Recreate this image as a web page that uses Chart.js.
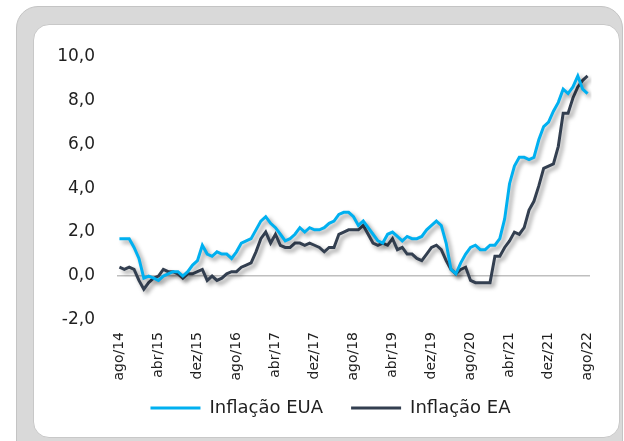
<!DOCTYPE html>
<html>
<head>
<meta charset="utf-8">
<script src="https://cdn.jsdelivr.net/npm/chart.js@4.4.1/dist/chart.umd.min.js"></script>
<style>
  html, body { margin:0; padding:0; background:#ffffff; width:624px; height:441px; overflow:hidden; }
  #outer { position:absolute; left:16px; top:6px; width:605px; height:470px; background:#d9d9d9; border:1px solid #c4c4c4; border-radius:22px; }
  #inner { position:absolute; left:33px; top:24px; width:585px; height:412px; background:#ffffff; border:1px solid #c8c8c8; border-radius:16px; }
  #wrap { position:absolute; left:33px; top:24px; width:587px; height:430px; }
</style>
</head>
<body>
<div id="outer"></div>
<div id="inner"></div>
<div id="wrap"><canvas id="c"></canvas></div>
<script>
const months = [
  'ago/14','set/14','out/14','nov/14','dez/14',
  'jan/15','fev/15','mar/15','abr/15','mai/15','jun/15','jul/15','ago/15','set/15','out/15','nov/15','dez/15',
  'jan/16','fev/16','mar/16','abr/16','mai/16','jun/16','jul/16','ago/16','set/16','out/16','nov/16','dez/16',
  'jan/17','fev/17','mar/17','abr/17','mai/17','jun/17','jul/17','ago/17','set/17','out/17','nov/17','dez/17',
  'jan/18','fev/18','mar/18','abr/18','mai/18','jun/18','jul/18','ago/18','set/18','out/18','nov/18','dez/18',
  'jan/19','fev/19','mar/19','abr/19','mai/19','jun/19','jul/19','ago/19','set/19','out/19','nov/19','dez/19',
  'jan/20','fev/20','mar/20','abr/20','mai/20','jun/20','jul/20','ago/20','set/20','out/20','nov/20','dez/20',
  'jan/21','fev/21','mar/21','abr/21','mai/21','jun/21','jul/21','ago/21','set/21','out/21','nov/21','dez/21',
  'jan/22','fev/22','mar/22','abr/22','mai/22','jun/22','jul/22','ago/22'
];
const shownTicks = ['ago/14','abr/15','dez/15','ago/16','abr/17','dez/17','ago/18','abr/19','dez/19','ago/20','abr/21','dez/21','ago/22'];
const inflacaoEUA = [
  1.7,1.7,1.7,1.3,0.8,
  -0.1,0.0,-0.1,-0.2,0.0,0.1,0.2,0.2,0.0,0.2,0.5,0.7,
  1.4,1.0,0.9,1.1,1.0,1.0,0.8,1.1,1.5,1.6,1.7,2.1,
  2.5,2.7,2.4,2.2,1.9,1.6,1.7,1.9,2.2,2.0,2.2,2.1,
  2.1,2.2,2.4,2.5,2.8,2.9,2.9,2.7,2.3,2.5,2.2,1.9,
  1.6,1.5,1.9,2.0,1.8,1.6,1.8,1.7,1.7,1.8,2.1,2.3,
  2.5,2.3,1.5,0.3,0.1,0.6,1.0,1.3,1.4,1.2,1.2,1.4,
  1.4,1.7,2.6,4.2,5.0,5.4,5.4,5.3,5.4,6.2,6.8,7.0,
  7.5,7.9,8.5,8.3,8.6,9.1,8.5,8.3
];
const inflacaoEA = [
  0.4,0.3,0.4,0.3,-0.2,
  -0.6,-0.3,-0.1,0.0,0.3,0.2,0.2,0.1,-0.1,0.1,0.1,0.2,
  0.3,-0.2,0.0,-0.2,-0.1,0.1,0.2,0.2,0.4,0.5,0.6,1.1,
  1.7,2.0,1.5,1.9,1.4,1.3,1.3,1.5,1.5,1.4,1.5,1.4,
  1.3,1.1,1.3,1.3,1.9,2.0,2.1,2.1,2.1,2.3,1.9,1.5,
  1.4,1.5,1.4,1.7,1.2,1.3,1.0,1.0,0.8,0.7,1.0,1.3,
  1.4,1.2,0.7,0.3,0.1,0.3,0.4,-0.2,-0.3,-0.3,-0.3,-0.3,
  0.9,0.9,1.3,1.6,2.0,1.9,2.2,3.0,3.4,4.1,4.9,5.0,
  5.1,5.9,7.4,7.4,8.1,8.6,8.9,9.1
];
const seriesNames = ['Inflação EUA', 'Inflação EA'];
const seriesColors = ['#00B0F0', '#333F50'];
const yTicks = [-2, 0, 2, 4, 6, 8, 10];

const shadowPlugin = {
  id: 'shadow',
  beforeDatasetsDraw(chart) {
    const ctx = chart.ctx;
    ctx.save();
    ctx.shadowColor = 'rgba(0,0,0,0.4)';
    ctx.shadowBlur = 4;
    ctx.shadowOffsetX = 3;
    ctx.shadowOffsetY = 3;
  },
  afterDatasetsDraw(chart) {
    chart.ctx.restore();
  }
};

const legendShift = {
  id: 'legendShift',
  afterLayout(chart) {
    if (chart.legend) { chart.legend.left += 19; chart.legend.right += 19; }
  }
};

new Chart(document.getElementById('c'), {
  type: 'line',
  data: {
    labels: months,
    datasets: [
      { label: seriesNames[0], data: inflacaoEUA, borderColor: seriesColors[0], backgroundColor: seriesColors[0], borderWidth: 3, pointRadius: 0, tension: 0, fill: false },
      { label: seriesNames[1], data: inflacaoEA, borderColor: seriesColors[1], backgroundColor: seriesColors[1], borderWidth: 3, pointRadius: 0, tension: 0, fill: false }
    ]
  },
  options: {
    responsive: true,
    maintainAspectRatio: false,
    animation: false,
    events: [],
    layout: { padding: { top: 29, left: 0, right: 30, bottom: 27 } },
    plugins: {
      tooltip: { enabled: false },
      legend: {
        position: 'bottom',
        labels: {
          font: { family: 'DejaVu Sans', size: 18 },
          color: '#1f1f1f',
          boxWidth: 50,
          boxHeight: 3,
          padding: 28,
          generateLabels(chart) {
            return chart.data.datasets.map((ds, i) => ({
              text: ds.label, fillStyle: ds.borderColor, strokeStyle: ds.borderColor,
              lineWidth: 0, hidden: false, datasetIndex: i, fontColor: '#1f1f1f'
            }));
          }
        }
      }
    },
    scales: {
      x: {
        offset: true,
        grid: { display: false, drawTicks: false },
        border: { display: false },
        afterFit(scale) { scale.height = 51; scale._computeLabelArea = () => undefined; },
        ticks: {
          autoSkip: false,
          maxRotation: 90,
          minRotation: 90,
          padding: 12,
          color: '#1f1f1f',
          font: { family: 'DejaVu Sans', size: 14 },
          callback(v, i) { const l = months[i]; return shownTicks.includes(l) ? l : ''; }
        }
      },
      y: {
        min: -2,
        max: 10,
        afterFit(scale) { scale.width = 84; },
        afterBuildTicks(scale) { scale.ticks = yTicks.map(v => ({ value: v })); },
        border: { display: false },
        grid: {
          drawTicks: false,
          color: ctx => (ctx.tick && ctx.tick.value === 0) ? '#bfbfbf' : 'rgba(0,0,0,0)',
          lineWidth: 1.5
        },
        ticks: {
          padding: 22,
          color: '#1f1f1f',
          font: { family: 'DejaVu Sans', size: 17 },
          callback(v) { return v.toFixed(1).replace('.', ','); }
        }
      }
    }
  },
  plugins: [shadowPlugin, legendShift]
});
</script>
</body>
</html>
